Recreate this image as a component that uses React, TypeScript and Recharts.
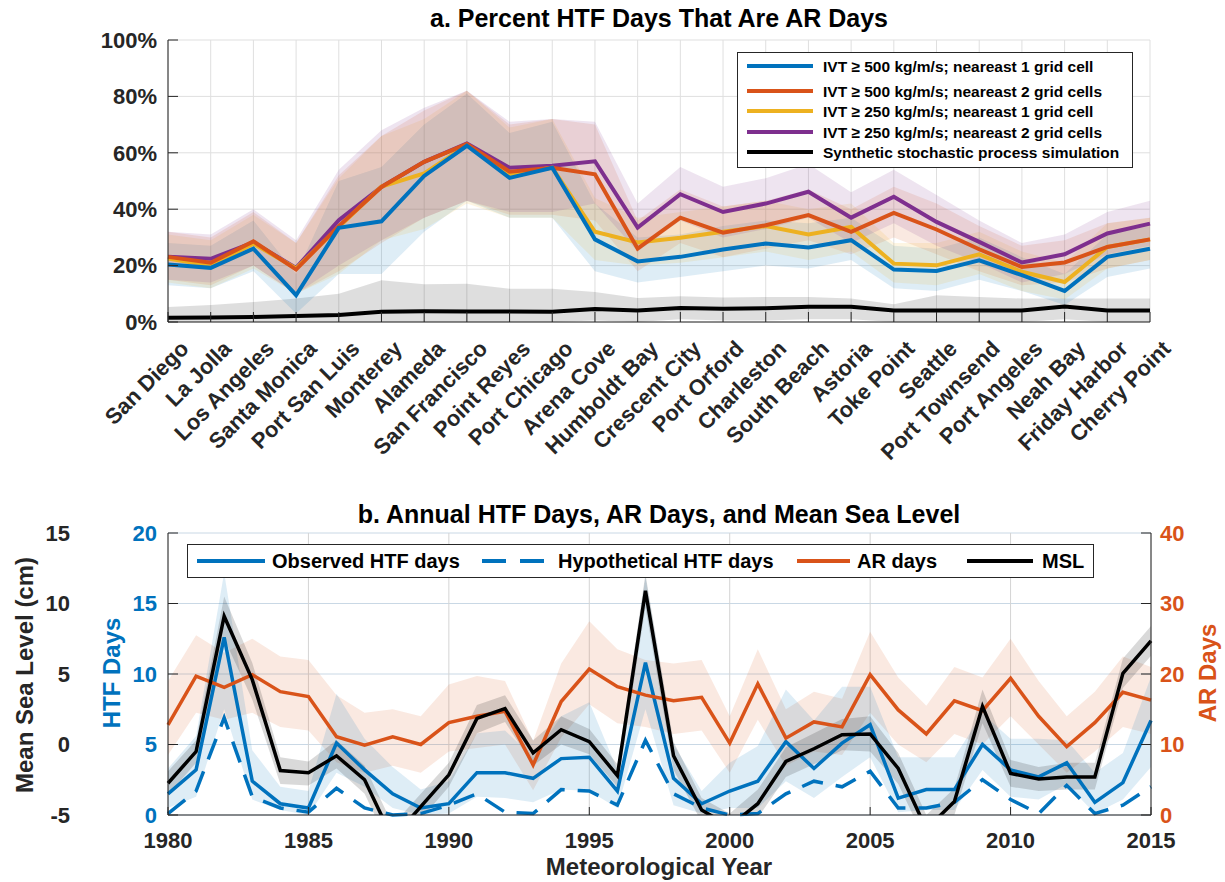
import React from 'react';
import { ComposedChart, Line, Area, XAxis, YAxis, CartesianGrid, Legend } from 'recharts';

const FONT = '"Liberation Sans", Arial, Helvetica, sans-serif';
const AX = '#262626';
const BLUE = '#0072BD';
const ORANGE = '#D95319';
const YELLOW = '#EDB120';
const PURPLE = '#7E2F8E';

// ---------- Panel a data ----------
const stations = [
  'San Diego', 'La Jolla', 'Los Angeles', 'Santa Monica', 'Port San Luis', 'Monterey',
  'Alameda', 'San Francisco', 'Point Reyes', 'Port Chicago', 'Arena Cove', 'Humboldt Bay',
  'Crescent City', 'Port Orford', 'Charleston', 'South Beach', 'Astoria', 'Toke Point',
  'Seattle', 'Port Townsend', 'Port Angeles', 'Neah Bay', 'Friday Harbor', 'Cherry Point',
];
const ivt500n1 = [20.4, 19.2, 26.0, 9.5, 33.4, 35.7, 51.8, 62.5, 51.1, 54.7, 29.3, 21.5, 23.1, 25.7, 27.8, 26.4, 29.0, 18.6, 18.1, 21.9, 16.6, 11.0, 23.1, 26.0];
const ivt500n1Lo = [13, 12, 18, 3, 17, 17, 32, 43, 37, 37, 18, 14, 16, 18, 20, 19, 22, 12, 11, 15, 11, 6, 16, 19];
const ivt500n1Hi = [28, 27, 36, 17, 50, 55, 70, 81, 67, 71, 42, 30, 31, 34, 36, 35, 37, 27, 26, 30, 23, 17, 31, 34];
const ivt500n2 = [23.1, 21.0, 28.6, 18.6, 34.0, 47.9, 56.8, 63.1, 53.3, 54.7, 52.4, 26.0, 37.0, 31.7, 34.3, 37.9, 32.0, 38.7, 32.8, 25.8, 19.5, 21.1, 26.6, 29.3];
const ivt500n2Lo = [15, 13, 20, 10, 18, 28, 37, 43, 38, 38, 36, 18, 28, 23, 26, 29, 24, 30, 24, 18, 13, 14, 19, 22];
const ivt500n2Hi = [32, 30, 39, 28, 52, 66, 75, 82, 70, 72, 70, 36, 47, 41, 43, 47, 40, 48, 42, 34, 27, 29, 35, 37];
const ivt250n1 = [22.5, 20.0, 27.8, 19.0, 33.7, 48.0, 52.7, 62.7, 52.4, 54.7, 32.0, 28.2, 29.9, 32.0, 34.0, 31.0, 33.7, 20.7, 20.1, 24.0, 17.8, 14.2, 26.6, 29.3];
const ivt250n1Lo = [14, 12, 19, 10, 17, 29, 33, 42, 37, 37, 22, 20, 21, 23, 25, 22, 25, 14, 13, 17, 11, 8, 19, 22];
const ivt250n1Hi = [31, 29, 38, 28, 51, 66, 72, 82, 69, 72, 44, 37, 39, 41, 43, 40, 42, 28, 28, 32, 25, 21, 35, 37];
const ivt250n2 = [23.1, 22.4, 28.2, 19.2, 36.1, 47.9, 56.8, 63.3, 54.7, 55.4, 57.0, 33.5, 45.3, 39.0, 42.0, 46.2, 37.0, 44.4, 35.5, 28.4, 21.1, 24.0, 31.4, 34.9];
const ivt250n2Lo = [15, 14, 20, 10, 20, 29, 37, 43, 39, 39, 42, 25, 36, 30, 33, 37, 28, 35, 27, 21, 14, 17, 24, 27];
const ivt250n2Hi = [32, 31, 40, 29, 54, 68, 76, 82, 71, 72, 71, 42, 55, 48, 51, 56, 46, 54, 45, 36, 28, 31, 39, 43];
const synthetic = [1.5, 1.6, 1.8, 2.1, 2.5, 3.6, 3.8, 3.7, 3.7, 3.6, 4.6, 4.1, 5.0, 4.7, 4.9, 5.4, 5.4, 4.1, 4.1, 4.1, 4.1, 5.5, 4.1, 4.1];
const syntheticLo = [0, 0, 0, 0, 0, 0, 0, 0, 0, 0, 0.5, 0, 1, 0.5, 0.5, 1, 1, 0, 0, 0, 0, 1, 0, 0];
const syntheticHi = [5.3, 6.0, 7.1, 8.3, 10.0, 14.8, 13.4, 13.6, 11.8, 11.8, 10.6, 8.5, 9.1, 8.7, 8.9, 8.9, 8.3, 6.3, 9.5, 8.9, 8.3, 8.3, 8.3, 8.3];
const pctTicks = [0, 20, 40, 60, 80, 100];

// ---------- Panel b data ----------
const years = [1980, 1981, 1982, 1983, 1984, 1985, 1986, 1987, 1988, 1989, 1990, 1991, 1992, 1993, 1994, 1995, 1996, 1997, 1998, 1999, 2000, 2001, 2002, 2003, 2004, 2005, 2006, 2007, 2008, 2009, 2010, 2011, 2012, 2013, 2014, 2015];
const observedHTF = [1.5, 3.2, 12.6, 2.4, 0.8, 0.5, 5.1, 3.2, 1.5, 0.5, 0.8, 3.0, 3.0, 2.6, 4.0, 4.1, 1.7, 10.8, 2.6, 0.8, 1.7, 2.4, 5.2, 3.3, 5.1, 6.4, 1.2, 1.8, 1.8, 5.0, 3.2, 2.7, 3.7, 0.9, 2.3, 6.7];
const observedLo = [0.5, 1.3, 7.5, 1.1, 0.35, 0, 3.0, 2.0, 0.5, 0, 0.1, 1.3, 1.2, 0.9, 1.8, 1.7, 0.5, 7.5, 0.7, 0.1, 0.5, 0.5, 2.4, 1.2, 2.7, 4.1, 0.2, 0.35, 0.35, 3.2, 1.3, 1.1, 2.2, 0.1, 1.1, 3.4];
const observedHi = [3.3, 5.6, 17.2, 4.6, 2.0, 1.7, 8.6, 5.4, 3.4, 1.8, 2.4, 5.8, 6.0, 4.1, 7.0, 8.0, 3.2, 16.9, 5.0, 1.7, 3.7, 4.9, 8.9, 6.7, 9.1, 9.1, 4.1, 4.1, 4.1, 7.2, 5.4, 5.4, 5.3, 3.0, 4.4, 9.8];
const hypotheticalHTF = [0.1, 1.7, 6.9, 1.3, 0.5, 0.2, 1.9, 0.5, 0.0, 0.1, 0.7, 1.5, 0.2, 0.1, 1.8, 1.7, 0.7, 5.3, 1.5, 0.5, 0.0, 0.1, 1.5, 2.4, 2.0, 3.1, 0.5, 0.5, 0.9, 2.5, 1.1, 0.1, 2.1, 0.1, 0.7, 2.0];
const arDays = [12.8, 19.7, 18.1, 19.9, 17.5, 16.8, 11.1, 9.9, 11.1, 10.0, 13.1, 14.0, 14.7, 7.1, 16.1, 20.7, 18.2, 17.0, 16.2, 16.7, 10.2, 18.6, 10.9, 13.2, 12.5, 19.9, 14.9, 11.5, 16.2, 14.8, 19.4, 14.0, 9.7, 13.1, 17.4, 16.3];
const arLo = [8.5, 14.5, 13.5, 14.5, 12.5, 12, 7.5, 6, 7, 6, 9, 9.5, 10, 3.5, 11, 15.7, 13, 12.5, 11.5, 12, 6, 13.5, 7, 9, 8.5, 14.5, 10, 7.5, 11.5, 10, 14, 10, 6, 9, 12.5, 11.5];
const arHi = [19, 25.5, 23, 25, 22.5, 22, 17, 14.5, 15, 14, 18.5, 19.7, 19, 10.5, 21.5, 27.5, 23.5, 22, 21.5, 22, 14, 23.5, 15, 17.5, 16.5, 26, 19.5, 15.5, 21, 19.5, 25, 19, 14, 17.5, 22.5, 21];
const mslCm = [-2.75, -0.5, 9.1, 4.6, -1.85, -2.0, -0.8, -2.5, -6.7, -4.4, -2.15, 1.85, 2.55, -0.6, 1.05, 0.2, -2.2, 10.9, -0.8, -4.65, -5.8, -4.2, -1.2, -0.3, 0.7, 0.75, -1.7, -6.0, -4.05, 2.7, -2.05, -2.45, -2.3, -2.3, 5.05, 7.35];
const mslLo = [-3.6, -1.3, 7.5, 3.2, -2.8, -2.9, -1.7, -3.5, -7.7, -5.3, -3.0, 0.8, 1.6, -1.5, 0.0, -0.7, -3.0, 9.7, -1.8, -5.5, -6.7, -5.2, -2.3, -1.4, -0.4, -0.5, -2.8, -7.0, -5.0, 1.5, -3.0, -3.3, -3.2, -3.2, 4.0, 6.3];
const mslHi = [-1.9, 0.3, 10.5, 5.8, -0.9, -1.2, 0.3, -1.5, -5.7, -3.5, -1.3, 2.8, 3.5, 0.3, 2.0, 1.1, -1.4, 12.1, 0.2, -3.8, -4.9, -3.2, -0.2, 0.8, 1.8, 2.0, -0.6, -5.0, -3.1, 3.9, -1.1, -1.6, -1.3, -1.3, 6.1, 8.4];
const yearTicks = [1980, 1985, 1990, 1995, 2000, 2005, 2010, 2015];
const htfTicks = [0, 5, 10, 15, 20];
const mslTicks = [-5, 0, 5, 10, 15];
const arTicks = [0, 10, 20, 30, 40];

const topData = stations.map((name, i) => ({
  name,
  s1: ivt500n1[i], s2: ivt500n2[i], s3: ivt250n1[i], s4: ivt250n2[i], syn: synthetic[i],
  b1: [ivt500n1Lo[i], ivt500n1Hi[i]],
  b2: [ivt500n2Lo[i], ivt500n2Hi[i]],
  b3: [ivt250n1Lo[i], ivt250n1Hi[i]],
  b4: [ivt250n2Lo[i], ivt250n2Hi[i]],
  bs: [syntheticLo[i], syntheticHi[i]],
}));

const botData = years.map((year, i) => ({
  year,
  obs: observedHTF[i], hyp: hypotheticalHTF[i], ar: arDays[i], msl: mslCm[i],
  obsBand: [observedLo[i], observedHi[i]],
  arBand: [arLo[i], arHi[i]],
  mslBand: [mslLo[i], mslHi[i]],
}));

const topLegendItems = [
  { label: 'IVT \u2265 500 kg/m/s; neareast 1 grid cell', color: BLUE },
  { label: 'IVT \u2265 500 kg/m/s; neareast 2 grid cells', color: ORANGE },
  { label: 'IVT \u2265 250 kg/m/s; neareast 1 grid cell', color: YELLOW },
  { label: 'IVT \u2265 250 kg/m/s; neareast 2 grid cells', color: PURPLE },
  { label: 'Synthetic stochastic process simulation', color: '#000000' },
];
const botLegendItems = [
  { label: 'Observed HTF days', color: BLUE, dash: undefined as string | undefined, x1: 10, x2: 78, tx: 85 },
  { label: 'Hypothetical HTF days', color: BLUE, dash: '24 14', x1: 295, x2: 358, tx: 371 },
  { label: 'AR days', color: ORANGE, dash: undefined, x1: 610, x2: 663, tx: 670 },
  { label: 'MSL', color: '#000000', dash: undefined, x1: 780, x2: 846, tx: 855 },
];

const NoTick = () => <g />;

const StationTick = (props: any) => {
  const { x, y, payload } = props;
  return (
    <g transform={`translate(${x + 22},${y}) rotate(-45)`}>
      <text x={0} y={0} textAnchor="end" fill={AX} fontSize={22} fontWeight="bold" fontFamily={FONT}>
        {payload.value}
      </text>
    </g>
  );
};

const TopLegend = () => {
  const rows = [14, 39, 59, 80, 100];
  return (
    <svg width={396} height={116} style={{ display: 'block' }}>
      <rect x={0.5} y={0.5} width={395} height={115} fill="#ffffff" stroke={AX} strokeWidth={1} />
      {topLegendItems.map((it, i) => (
        <g key={i}>
          <line x1={10} x2={76} y1={rows[i]} y2={rows[i]} stroke={it.color} strokeWidth={4} />
          <text x={86} y={rows[i]} dy="0.36em" fontSize={15.5} fontWeight="bold" fontFamily={FONT} fill="#000">{it.label}</text>
        </g>
      ))}
    </svg>
  );
};

const BotLegend = () => (
  <svg width={908} height={35} style={{ display: 'block' }}>
    <rect x={0.5} y={0.5} width={906} height={33} fill="#ffffff" stroke={AX} strokeWidth={1} />
    {botLegendItems.map((it, i) => (
      <g key={i}>
        <line x1={it.x1} x2={it.x2} y1={17} y2={17} stroke={it.color} strokeWidth={4} strokeDasharray={it.dash} />
        <text x={it.tx} y={17} dy="0.36em" fontSize={20} fontWeight="bold" fontFamily={FONT} fill="#000">{it.label}</text>
      </g>
    ))}
  </svg>
);

const tickStyle = (fill: string) => ({ fill, fontSize: 22, fontWeight: 'bold', fontFamily: FONT });

export default function App() {
  return (
    <div style={{ position: 'absolute', left: 0, top: 0, width: 1225, height: 882, background: '#fff', overflow: 'hidden' }}>
      <div style={{ position: 'absolute', left: 0, top: 0 }}>
        <ComposedChart width={1225} height={470} data={topData} margin={{ top: 40, right: 75, bottom: 0, left: 0 }}>
          <CartesianGrid stroke="#dfdfdf" strokeWidth={1} />
          <XAxis dataKey="name" scale="point" padding={{ left: 0, right: 0 }} interval={0} height={148}
            tickSize={-10} tickMargin={38} tick={StationTick}
            axisLine={{ stroke: AX }} tickLine={{ stroke: AX }} />
          <XAxis xAxisId="top" orientation="top" dataKey="name" scale="point" padding={{ left: 0, right: 0 }} interval={0}
            height={0} tickSize={-10} tick={NoTick} axisLine={{ stroke: AX }} tickLine={{ stroke: AX }} />
          <YAxis domain={[0, 100]} ticks={pctTicks} interval={0} width={168} tickSize={-10} tickMargin={21}
            tickFormatter={(v: number) => `${v}%`} tick={tickStyle(AX)}
            axisLine={{ stroke: AX }} tickLine={{ stroke: AX }} />
          <YAxis yAxisId="r" orientation="right" domain={[0, 100]} ticks={pctTicks} interval={0} width={0}
            tickSize={-10} tick={NoTick} axisLine={{ stroke: AX }} tickLine={{ stroke: AX }} />

          <Area dataKey="bs" stroke="none" fill="#000000" fillOpacity={0.13} isAnimationActive={false} activeDot={false} />
          <Area dataKey="b1" stroke="none" fill={BLUE} fillOpacity={0.13} isAnimationActive={false} activeDot={false} />
          <Area dataKey="b2" stroke="none" fill={ORANGE} fillOpacity={0.13} isAnimationActive={false} activeDot={false} />
          <Area dataKey="b3" stroke="none" fill={YELLOW} fillOpacity={0.13} isAnimationActive={false} activeDot={false} />
          <Area dataKey="b4" stroke="none" fill={PURPLE} fillOpacity={0.13} isAnimationActive={false} activeDot={false} />

          <Line dataKey="s4" stroke={PURPLE} strokeWidth={4} dot={false} activeDot={false} isAnimationActive={false} />
          <Line dataKey="s3" stroke={YELLOW} strokeWidth={4} dot={false} activeDot={false} isAnimationActive={false} />
          <Line dataKey="s2" stroke={ORANGE} strokeWidth={4} dot={false} activeDot={false} isAnimationActive={false} />
          <Line dataKey="s1" stroke={BLUE} strokeWidth={4} dot={false} activeDot={false} isAnimationActive={false} />
          <Line dataKey="syn" stroke="#000000" strokeWidth={4} dot={false} activeDot={false} isAnimationActive={false} />

          <Legend layout="vertical" align="center" verticalAlign="middle" content={TopLegend}
            wrapperStyle={{ left: 737, top: 52, width: 396, height: 116, right: 'auto', bottom: 'auto' }} />
        </ComposedChart>
      </div>

      <div style={{ position: 'absolute', left: 0, top: 480 }}>
        <ComposedChart width={1225} height={402} data={botData} margin={{ top: 53, right: 0, bottom: 0, left: 0 }}>
          <CartesianGrid xAxisId="x" yAxisId="htf" vertical={false} stroke="#c9d8e5" strokeWidth={1} />
          <CartesianGrid xAxisId="x" yAxisId="htf" horizontal={false} stroke="#d4d4d4" strokeWidth={1} />
          <XAxis xAxisId="x" type="number" dataKey="year" domain={[1980, 2015]} ticks={yearTicks} interval={0}
            height={67} tickSize={-8} tickMargin={25} tick={tickStyle(AX)}
            axisLine={{ stroke: AX }} tickLine={{ stroke: AX }} />
          <XAxis xAxisId="xt" orientation="top" type="number" dataKey="year" domain={[1980, 2015]} ticks={yearTicks}
            interval={0} height={0} tickSize={-8} tick={NoTick} axisLine={{ stroke: AX }} tickLine={{ stroke: AX }} />
          <YAxis yAxisId="htf" orientation="left" domain={[0, 20]} ticks={htfTicks} interval={0} width={78}
            tickSize={-10} tickMargin={21} tick={tickStyle(BLUE)} axisLine={{ stroke: AX }} tickLine={{ stroke: AX }} />
          <YAxis yAxisId="msl" orientation="left" domain={[-5, 15]} ticks={mslTicks} interval={0} width={90}
            allowDataOverflow tickSize={0} tickMargin={20} tick={tickStyle(AX)} axisLine={false} tickLine={false} />
          <YAxis yAxisId="ar" orientation="right" domain={[0, 40]} ticks={arTicks} interval={0} width={74}
            tickSize={-10} tickMargin={19} tick={tickStyle(ORANGE)} axisLine={{ stroke: AX }} tickLine={{ stroke: AX }} />

          <Area xAxisId="x" yAxisId="ar" dataKey="arBand" stroke="none" fill={ORANGE} fillOpacity={0.13} isAnimationActive={false} activeDot={false} />
          <Area xAxisId="x" yAxisId="htf" dataKey="obsBand" stroke="none" fill={BLUE} fillOpacity={0.13} isAnimationActive={false} activeDot={false} />
          <Area xAxisId="x" yAxisId="msl" dataKey="mslBand" stroke="none" fill="#000000" fillOpacity={0.15} isAnimationActive={false} activeDot={false} />

          <Line xAxisId="x" yAxisId="htf" dataKey="obs" stroke={BLUE} strokeWidth={3.5} dot={false} activeDot={false} isAnimationActive={false} />
          <Line xAxisId="x" yAxisId="htf" dataKey="hyp" stroke={BLUE} strokeWidth={3.5} strokeDasharray="22 13" dot={false} activeDot={false} isAnimationActive={false} />
          <Line xAxisId="x" yAxisId="ar" dataKey="ar" stroke={ORANGE} strokeWidth={3.5} dot={false} activeDot={false} isAnimationActive={false} />
          <Line xAxisId="x" yAxisId="msl" dataKey="msl" stroke="#000000" strokeWidth={3.5} dot={false} activeDot={false} isAnimationActive={false} />

          <Legend layout="vertical" align="center" verticalAlign="middle" content={BotLegend}
            wrapperStyle={{ left: 187, top: 64, width: 908, height: 35, right: 'auto', bottom: 'auto' }} />
        </ComposedChart>
      </div>

      <svg width={1225} height={882} style={{ position: 'absolute', left: 0, top: 0, pointerEvents: 'none' }}>
        <g fontFamily={FONT} fontWeight="bold">
          <text x={659} y={27} textAnchor="middle" fontSize={25} fill="#000">a. Percent HTF Days That Are AR Days</text>
          <text x={659} y={523} textAnchor="middle" fontSize={25} fill="#000">b. Annual HTF Days, AR Days, and Mean Sea Level</text>
          <text transform="translate(33,675) rotate(-90)" textAnchor="middle" fontSize={24} fill={AX}>Mean Sea Level (cm)</text>
          <text transform="translate(120,673) rotate(-90)" textAnchor="middle" fontSize={24} fill={BLUE}>HTF Days</text>
          <text transform="translate(1216,673) rotate(-90)" textAnchor="middle" fontSize={24} fill={ORANGE}>AR Days</text>
          <text x={659} y={875} textAnchor="middle" fontSize={24} fill={AX}>Meteorological Year</text>
        </g>
      </svg>
    </div>
  );
}
